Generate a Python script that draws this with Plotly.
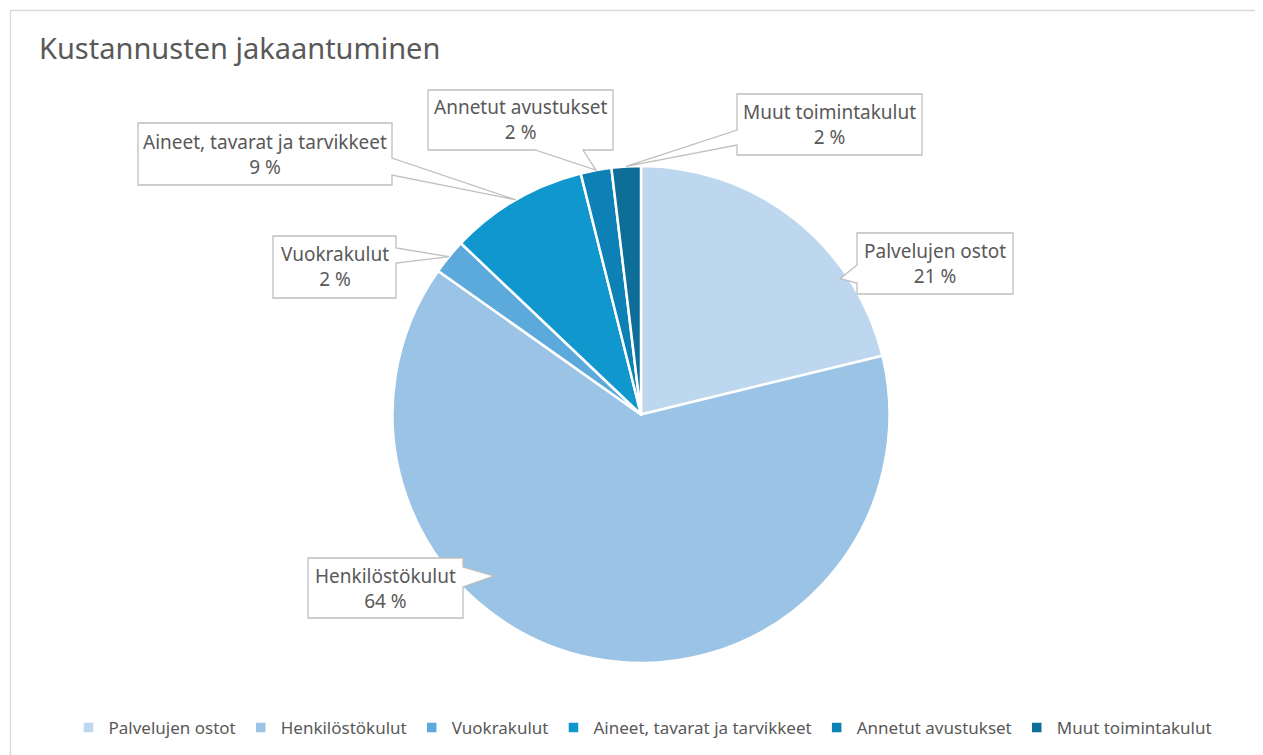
import numpy as np
import plotly.graph_objects as go

W, H = 1263, 755
OFF = 8  # page body margin in the browser

categories = ["Palvelujen ostot", "Henkilöstökulut", "Vuokrakulut",
              "Aineet, tavarat ja tarvikkeet", "Annetut avustukset", "Muut toimintakulut"]
values = [21.2, 63.6, 2.3, 9.0, 2.0, 1.9]
colors = ["#BDD7EE", "#9AC3E5", "#5BAADB", "#0F97CE", "#0D80B6", "#0E6E97"]

FONT = "Noto Sans"
GREY = "#595959"

# pie geometry in pixels (screen coordinates)
cx, cy, R = 641, 414.5, 248.5


def px(x):
    return (x - OFF) / W


def py(y):
    return 1 - (y - OFF) / H


# callout boxes: (x0, y0, x1, y1), side of pointer, pointer base, position within slice, radius fraction
callouts = [
    ((857, 233, 1013, 294), "left", (265, 283), 0.73, 0.97),
    ((308, 558, 463, 618), "right", (567, 587), 0.638, 0.88),
    ((273, 236, 396, 298), "right", (248, 263), 0.5, 1.0),
    ((138, 123, 392, 185), "right", (158, 175), 0.5, 1.0),
    ((428, 90, 613, 150), "bottom", (535, 583), 0.5, 1.0),
    ((737, 94, 922, 155), "left", (130, 145), 0.5, 1.0),
]

fig = go.Figure()
fig.add_trace(go.Pie(
    labels=categories, values=values, sort=False, direction="clockwise", rotation=0,
    marker=dict(colors=colors, line=dict(color="white", width=2.5)),
    textinfo="none", hoverinfo="label+percent",
    domain=dict(x=[px(cx - R), px(cx + R)], y=[py(cy + R), py(cy - R)]),
))

total = sum(values)
cum = np.cumsum([0] + values)
shapes = []
annotations = []
for i, (box, side, base, frac, rf) in enumerate(callouts):
    a0 = cum[i] / total * 360
    a1 = cum[i + 1] / total * 360
    ang = np.radians(a0 + frac * (a1 - a0))
    tx = cx + R * rf * np.sin(ang)
    ty = cy - R * rf * np.cos(ang)
    x0, y0, x1, y1 = box
    pts = [(x0, y0), (x1, y0)]
    if side == "right":
        pts += [(x1, base[0]), (tx, ty), (x1, base[1])]
    pts += [(x1, y1)]
    if side == "bottom":
        pts += [(base[1], y1), (tx, ty), (base[0], y1)]
    pts += [(x0, y1)]
    if side == "left":
        pts += [(x0, base[1]), (tx, ty), (x0, base[0])]
    path = "M " + " L ".join(f"{px(x):.5f},{py(y):.5f}" for x, y in pts) + " Z"
    shapes.append(dict(type="path", path=path, xref="paper", yref="paper",
                       fillcolor="white", line=dict(color="#BFBFBF", width=1.3), layer="above"))
    pct = round(values[i] / total * 100)
    annotations.append(dict(
        x=px((x0 + x1) / 2), y=py((y0 + y1) / 2), xref="paper", yref="paper",
        text=f"{categories[i]}<br>{pct} %", showarrow=False,
        font=dict(family=FONT, size=19, color=GREY), align="center",
        xanchor="center", yanchor="middle"))

# outer chart border
shapes.append(dict(type="rect", xref="paper", yref="paper",
                   x0=px(10.5), y0=-0.05, x1=1.05, y1=py(10.5),
                   line=dict(color="#D9D9D9", width=1.3), fillcolor="rgba(0,0,0,0)", layer="below"))

fig.update_layout(
    width=W, height=H,
    margin=dict(l=0, r=0, t=0, b=0),
    paper_bgcolor="white", plot_bgcolor="white",
    title=dict(text="Kustannusten jakaantuminen", x=px(39), xanchor="left",
               y=py(49), yanchor="middle", xref="paper", yref="paper",
               font=dict(family=FONT, size=29, color=GREY)),
    showlegend=True,
    legend=dict(orientation="h", x=px(643), xanchor="center", y=py(728), yanchor="middle",
                font=dict(family=FONT, size=17, color=GREY), itemwidth=30,
                traceorder="normal", bgcolor="rgba(0,0,0,0)"),
    shapes=shapes, annotations=annotations,
)

fig.write_html("out.html")
